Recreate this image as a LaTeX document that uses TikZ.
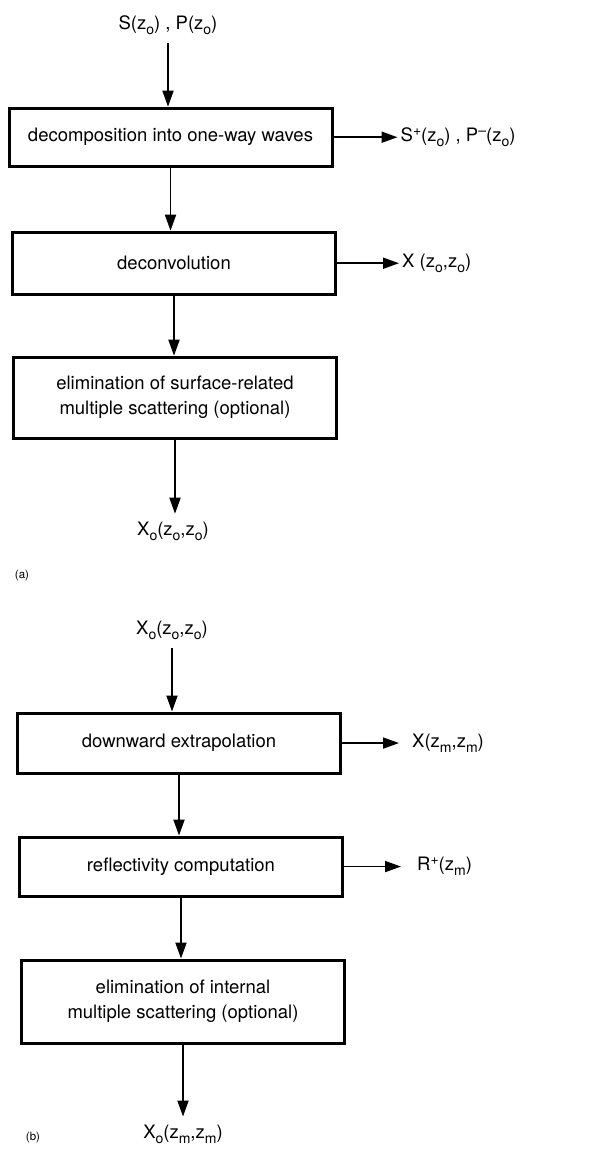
\documentclass[tikz,border=0pt]{standalone}
\usepackage{fontspec}
\setmainfont{TeX Gyre Heros}
\usetikzlibrary{arrows.meta}
\usetikzlibrary{positioning}

% lowered and raised small letters as the figure prints them
\newcommand{\subtxt}[1]{\raisebox{-5pt}{\fontsize{14}{14}\selectfont #1}}
\newcommand{\suptxt}[1]{\raisebox{6pt}{\fontsize{14}{14}\selectfont #1}}
\newcommand{\zo}{z\subtxt{o}}
\newcommand{\zm}{z\subtxt{m}}

\tikzset {
  flow path/.style = {
    draw = black,
    line width = 1.8pt
  },
  % path style with a filled arrow head at the end
  arr/.style = {
    flow path,
    -{Triangle[length=16pt, width=11pt]}
  }
}
\tikzset {
  % processing step
  proc/.style = {
    draw = black,
    line width = 3pt,
    rectangle,
    minimum width = 323pt,
    minimum height = 58pt,
    align = center,
    font = \fontsize{18.5}{25}\selectfont
  },
  % data going in or out
  io/.style = {
    inner xsep = 3pt,
    inner ysep = 8pt,
    font = \fontsize{18.5}{25}\selectfont
  },
  % panel tag
  tag/.style = {
    font = \fontsize{11.5}{14}\selectfont
  }
}

\begin{document}
\begin{tikzpicture}[x=1pt, y=1pt]
    \useasboundingbox (0,0) rectangle (599,-1153);

    % panel (a)
    \node[io] (inA) at (168,-25) {S(\zo) , P(\zo)};

    \node[proc] (decomp) [below=64pt of inA, xshift=2.5pt]
      {decomposition into one-way waves};
    \node[io] (decompOut) [right=64pt of decomp]
      {S\suptxt{+}(\zo) , P\suptxt{--}(\zo)};

    \node[proc, minimum height=62pt] (deconv) [below=63pt of decomp, xshift=3.5pt]
      {deconvolution};
    \node[io] (deconvOut) [right=62pt of deconv] {X (\zo,\zo)};

    \node[proc, minimum height=81pt] (elimSurf) [below=60pt of deconv, xshift=1pt]
      {elimination of surface-related\\multiple scattering (optional)};

    \node[io] (outA) [below=74pt of elimSurf, xshift=-2pt]
      {X\subtxt{o}(\zo,\zo)};

    \node[tag] (tagA) at (22,-576) {(a)};

    % panel (b)
    \node[io] (inB) at (172,-630) {X\subtxt{o}(\zo,\zo)};

    \node[proc, minimum height=60pt] (extrap) [below=64pt of inB, xshift=7pt]
      {downward extrapolation};
    \node[io] (extrapOut) [right=67pt of extrap] {X(\zm,\zm)};

    \node[proc, minimum height=59pt] (refl) [below=61pt of extrap, xshift=2pt]
      {reflectivity computation};
    \node[io] (reflOut) [right=70pt of refl] {R\suptxt{+}(\zm)};

    \node[proc, minimum height=83pt] (elimInt) [below=61pt of refl, xshift=2pt]
      {elimination of internal\\multiple scattering (optional)};

    \node[io] (outB) [below=72pt of elimInt, xshift=0pt]
      {X\subtxt{o}(\zm,\zm)};

    \node[tag] (tagB) at (33,-1138) {(b)};

    % main path (a)
    \draw[arr] (inA) -- (inA |- decomp.north);
    \draw[arr] (decomp) -- (decomp |- deconv.north);
    \draw[arr] (deconv) -- (deconv |- elimSurf.north);
    \draw[arr] (elimSurf) -- (elimSurf |- outA.north);

    % side outputs (a)
    \draw[arr] (decomp) -- (decompOut);
    \draw[arr] (deconv) -- (deconvOut);

    % main path (b)
    \draw[arr] (inB) -- (inB |- extrap.north);
    \draw[arr] (extrap) -- (extrap |- refl.north);
    \draw[arr] (refl) -- (refl |- elimInt.north);
    \draw[arr] (elimInt) -- (elimInt |- outB.north);

    % side outputs (b)
    \draw[arr, shorten >=10pt] (extrap) -- (extrapOut);
    \draw[arr, shorten >=13pt] (refl) -- (reflOut);
\end{tikzpicture}
\end{document}
